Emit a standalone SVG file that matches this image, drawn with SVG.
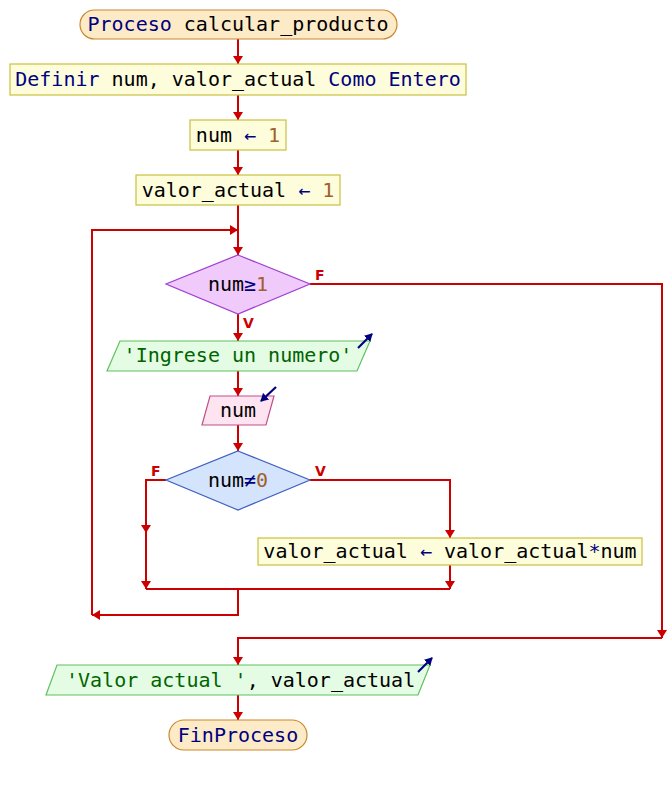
<svg xmlns="http://www.w3.org/2000/svg" width="672" height="785" viewBox="0 0 672 785">
<defs>
<marker id="ah" markerWidth="8" markerHeight="10" refX="8" refY="5" orient="auto" markerUnits="userSpaceOnUse">
<path d="M0,0 L8,5 L0,10 Z" fill="#cc0000"/>
</marker>
<marker id="io" markerWidth="8" markerHeight="9" refX="7" refY="4.5" orient="auto" markerUnits="userSpaceOnUse">
<path d="M0,0 L8,4.5 L0,9 Z" fill="#000080"/>
</marker>
<style>
.t{font-family:"DejaVu Sans Mono","Liberation Mono",monospace;font-size:20px;fill:#000000}
.k{fill:#000080}
.n{fill:#a0602a}
.s{fill:#006400}
.lbl{font-family:"DejaVu Sans","Liberation Sans",sans-serif;font-size:14px;font-weight:bold;fill:#cc0000}
.term{fill:#fdebc8;stroke:#c8882c;stroke-width:1.2}
.proc{fill:#fdfddc;stroke:#c8c040;stroke-width:1.2}
.out{fill:#e4fce4;stroke:#60c060;stroke-width:1.2}
.inp{fill:#fde4f0;stroke:#c05088;stroke-width:1.2}
.d1{fill:#f0cafa;stroke:#a040d0;stroke-width:1.2}
.d2{fill:#d4e4fc;stroke:#4060c0;stroke-width:1.2}
.c{fill:none;stroke:#cc0000;stroke-width:2}
.ic{fill:none;stroke:#000080;stroke-width:2.2}
</style>
</defs>

<g id="connectors">
<path class="c" d="M238,39 V64" marker-end="url(#ah)"/>
<path class="c" d="M238,95 V120" marker-end="url(#ah)"/>
<path class="c" d="M238,150 V175" marker-end="url(#ah)"/>
<path class="c" d="M238,205 V255" marker-end="url(#ah)"/>
<path class="c" d="M92,615 V230 H238" marker-end="url(#ah)"/>
<path class="c" d="M238,314 V341" marker-end="url(#ah)"/>
<path class="c" d="M238,371 V396" marker-end="url(#ah)"/>
<path class="c" d="M238,425 V451" marker-end="url(#ah)"/>
<path class="c" d="M310,480 H450 V538" marker-end="url(#ah)"/>
<path class="c" d="M450,565 V589" marker-end="url(#ah)"/>
<path class="c" d="M166,480 H146 V533" marker-end="url(#ah)"/>
<path class="c" d="M146,530 V589" marker-end="url(#ah)"/>
<path class="c" d="M146,589 H450"/>
<path class="c" d="M238,589 V615 H92" marker-end="url(#ah)"/>
<path class="c" d="M310,284 H662 V638" marker-end="url(#ah)"/>
<path class="c" d="M662,638 H238 V665" marker-end="url(#ah)"/>
<path class="c" d="M238,695 V720" marker-end="url(#ah)"/>
<text class="lbl" x="315" y="280">F</text>
<text class="lbl" x="243" y="328">V</text>
<text class="lbl" x="151" y="476">F</text>
<text class="lbl" x="315" y="476">V</text>
</g>

<g id="start">
<rect class="term" x="80" y="10" width="317" height="29" rx="14.5"/>
<text class="t" x="238" y="31" text-anchor="middle"><tspan class="k">Proceso</tspan> calcular_producto</text>
</g>

<g id="definir">
<rect class="proc" x="10" y="64" width="456" height="31"/>
<text class="t" x="238" y="86" text-anchor="middle"><tspan class="k">Definir</tspan> num, valor_actual <tspan class="k">Como Entero</tspan></text>
</g>

<g id="asig_num">
<rect class="proc" x="190" y="120" width="96" height="30"/>
<text class="t" x="238" y="142" text-anchor="middle">num <tspan class="k">←</tspan> <tspan class="n">1</tspan></text>
</g>

<g id="asig_valor">
<rect class="proc" x="136" y="175" width="204" height="30"/>
<text class="t" x="238" y="197" text-anchor="middle">valor_actual <tspan class="k">←</tspan> <tspan class="n">1</tspan></text>
</g>

<g id="cond_mientras">
<polygon class="d1" points="238,255 310,284 238,314 166,284"/>
<text class="t" x="238" y="291" text-anchor="middle">num<tspan class="k">≥</tspan><tspan class="n">1</tspan></text>
</g>

<g id="escribir_ingrese">
<polygon class="out" points="120,341 370,341 357,371 107,371"/>
<text class="t" x="238" y="362" text-anchor="middle"><tspan class="s">'Ingrese un numero'</tspan></text>
<path class="ic" d="M358,348 L372,334" marker-end="url(#io)"/>
</g>

<g id="leer_num">
<polygon class="inp" points="210,396 274,396 266,425 202,425"/>
<text class="t" x="238" y="417" text-anchor="middle">num</text>
<path class="ic" d="M276,387 L261,401" marker-end="url(#io)"/>
</g>

<g id="cond_si">
<polygon class="d2" points="238,451 310,480 238,510 166,480"/>
<text class="t" x="238" y="487" text-anchor="middle">num<tspan class="k">≠</tspan><tspan class="n">0</tspan></text>
</g>

<g id="asig_producto">
<rect class="proc" x="258" y="538" width="384" height="27"/>
<text class="t" x="450" y="558" text-anchor="middle">valor_actual <tspan class="k">←</tspan> valor_actual<tspan class="k">*</tspan>num</text>
</g>

<g id="escribir_valor">
<polygon class="out" points="57,665 430,665 418,695 46,695"/>
<text class="t" x="66" y="687"><tspan class="s">'Valor actual '</tspan>, valor_actual</text>
<path class="ic" d="M418,672 L432,658" marker-end="url(#io)"/>
</g>

<g id="fin">
<rect class="term" x="169" y="720" width="138" height="30" rx="15"/>
<text class="t" x="238" y="742" text-anchor="middle"><tspan class="k">FinProceso</tspan></text>
</g>
</svg>
